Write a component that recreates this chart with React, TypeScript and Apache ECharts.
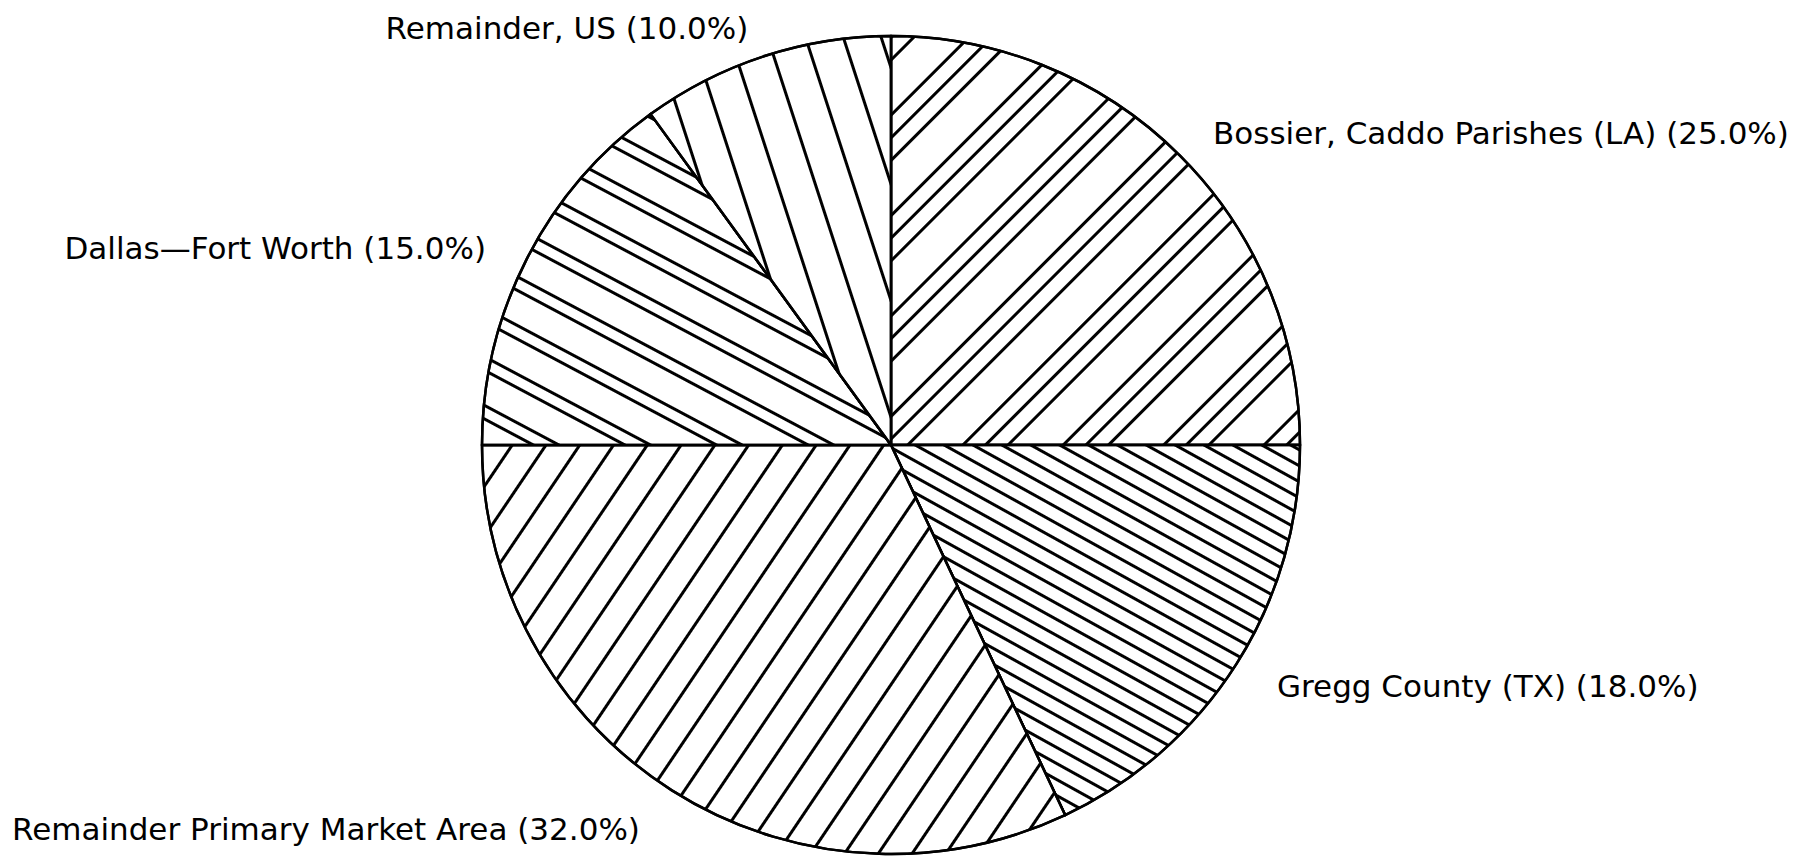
import React, { useEffect, useRef } from "react";
import * as echarts from "echarts";

// ---- data ----
const categories = [
  "Bossier, Caddo Parishes (LA)",
  "Gregg County (TX)",
  "Remainder Primary Market Area",
  "Dallas—Fort Worth",
  "Remainder, US",
];
const shares = [25.0, 18.0, 32.0, 15.0, 10.0];

// ---- styles ----
const hatchAngles = [-45, 29, -56, 28, 72]; // degrees
const hatchDashes: number[][] = [
  [2.2, 12.5, 2.2, 12.5, 2.2, 36],
  [2.2, 11],
  [2.2, 24.2],
  [2.2, 9, 2.2, 28],
  [2.2, 33],
];
const labelPlacements = [
  { x: 1213, y: 133, align: "left" },
  { x: 1277, y: 686, align: "left" },
  { x: 12, y: 829, align: "left" },
  { x: 486, y: 248, align: "right" },
  { x: 567, y: 28, align: "center" },
];

export default function App() {
  const ref = useRef<HTMLDivElement>(null);
  useEffect(() => {
    document.body.style.margin = "0";
    const chart = echarts.init(ref.current!, null, { renderer: "svg" });
    chart.setOption({
      animation: false,
      backgroundColor: "#fff",
      series: [
        {
          type: "pie",
          center: [891, 445],
          radius: 409,
          startAngle: 90,
          clockwise: true,
          silent: true,
          emphasis: { disabled: true },
          itemStyle: { color: "#fff", borderColor: "#000", borderWidth: 2.5 },
          label: {
            show: true,
            position: "outside",
            color: "#000",
            fontFamily: "DejaVu Sans",
            fontSize: 31,
            overflow: "none",
            formatter: (p: any) => `${p.name} (${Number(p.value).toFixed(1)}%)`,
          },
          labelLine: { show: false },
          labelLayout: (params: any) => {
            const pl = labelPlacements[params.dataIndex];
            return { x: pl.x, y: pl.y, align: pl.align, verticalAlign: "middle", width: 900 };
          },
          data: categories.map((name, i) => ({
            name,
            value: shares[i],
            itemStyle: {
              decal: {
                symbol: "rect",
                symbolSize: 1,
                dashArrayX: [1, 0],
                dashArrayY: hatchDashes[i],
                rotation: (hatchAngles[i] * Math.PI) / 180,
                color: "#000",
                backgroundColor: "#fff",
              },
            },
          })),
        },
      ],
    });
    return () => chart.dispose();
  }, []);
  return (
    <div
      ref={ref}
      style={{ position: "fixed", left: 0, top: 0, width: 1815, height: 858 }}
    />
  );
}
